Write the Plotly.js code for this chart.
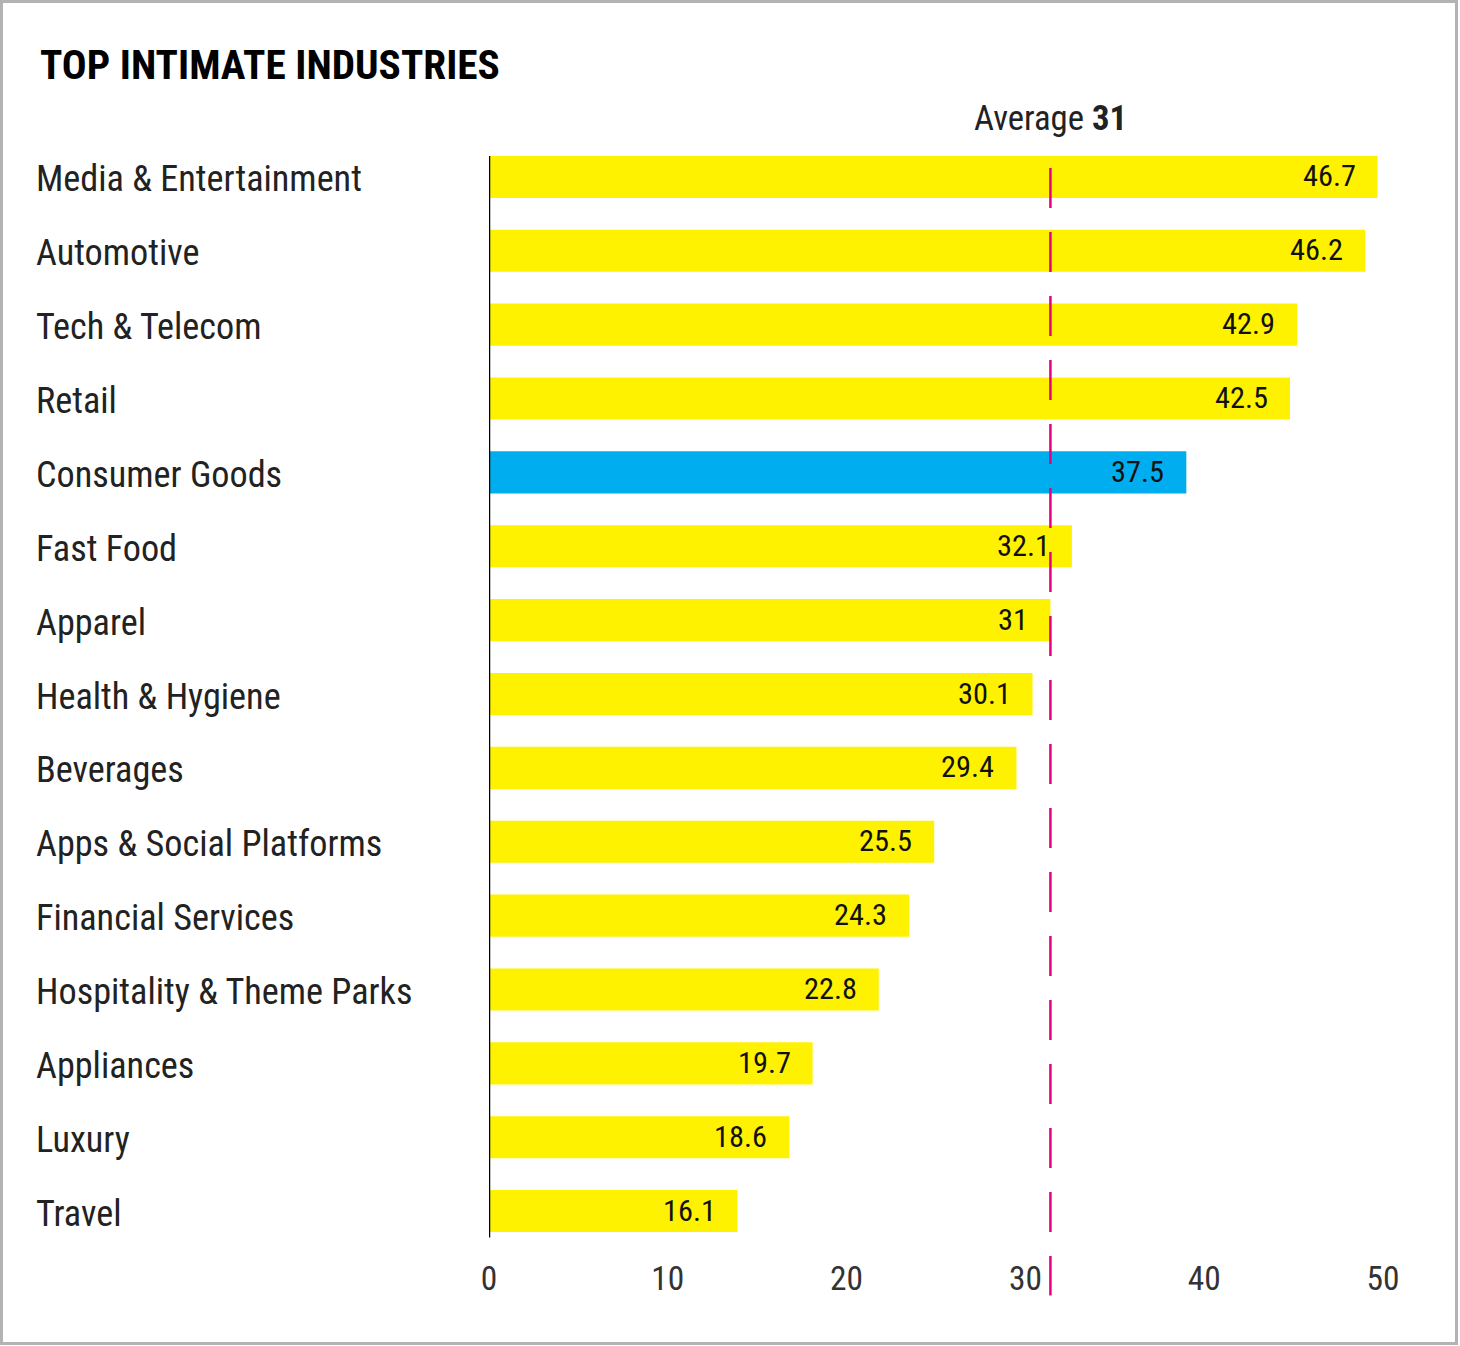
<!DOCTYPE html>
<html>
<head>
<meta charset="utf-8">
<script src="https://cdn.plot.ly/plotly-3.0.1.min.js"></script>
<style>
  html, body { margin: 0; padding: 0; background: #fff; }
  #wrap { position: relative; width: 1460px; height: 1346px; overflow: hidden; }
  #chart { position: absolute; left: 0; top: 0; width: 1460px; height: 1346px; }
  #frame { position: absolute; left: 0; top: 0; width: 1458px; height: 1345px; box-sizing: border-box; border: 3px solid #b3b3b3; pointer-events: none; }
</style>
</head>
<body>
<div id="wrap"><div id="chart"></div><div id="frame"></div></div>
<script>
// ---- data ----
const categories = [
  "Media & Entertainment", "Automotive", "Tech & Telecom", "Retail", "Consumer Goods",
  "Fast Food", "Apparel", "Health & Hygiene", "Beverages", "Apps & Social Platforms",
  "Financial Services", "Hospitality & Theme Parks", "Appliances", "Luxury", "Travel"
];
// printed scores
const scores = [46.7, 46.2, 42.9, 42.5, 37.5, 32.1, 31, 30.1, 29.4, 25.5, 24.3, 22.8, 19.7, 18.6, 16.1];
// bar extents as drawn against the 0–50 axis
const barLengths = [49.7, 49.0, 45.2, 44.8, 39.0, 32.6, 31.4, 30.4, 29.5, 24.9, 23.5, 21.8, 18.1, 16.8, 13.9];
const highlighted = "Consumer Goods";
const averageLabel = 31;
const averageLinePos = 31.4;
const xTicks = [0, 10, 20, 30, 40, 50];

const YELLOW = "#FFF200", BLUE = "#00AEEF", MAGENTA = "#E6007E";
const FONT = "'Roboto Condensed', 'Archivo Narrow', 'DejaVu Sans Condensed', sans-serif";

// fit font sizes to the text widths seen in the reference
const ctx = document.createElement("canvas").getContext("2d");
function widthAt(text, size, weight) {
  ctx.font = (weight || "normal") + " " + size + "px " + FONT;
  return ctx.measureText(text).width;
}
function fit(text, target, weight, fallback, lo, hi) {
  const w = widthAt(text, 100, weight);
  if (!w) return fallback;
  const s = 100 * target / w;
  return Math.max(lo, Math.min(hi, s));
}
const labelSize = fit("Media & Entertainment", 326, "normal", 36, 30, 40);
const titleSize = fit("TOP INTIMATE INDUSTRIES", 460, "bold", 42, 34, 50);
const valueSize = fit("46.7", 53, "normal", 30, 26, 34);
const tickSize = fit("50", 33, "normal", 31, 26, 36);
const avgW = widthAt("Average ", 100, "normal") + widthAt("31", 100, "bold");
const avgSize = Math.max(30, Math.min(40, 100 * 153 / avgW));

const colors = categories.map(c => c === highlighted ? BLUE : YELLOW);

const trace = {
  type: "bar",
  orientation: "h",
  y: categories,
  x: barLengths,
  width: 0.57,
  marker: { color: colors, line: { width: 0 } },
  hoverinfo: "none"
};

// plot area geometry (pixels) used to convert to paper coords
const plotTop = 140, plotBottom = 1248.5, plotLeft = 489, plotRight = 1383;
const ph = plotBottom - plotTop, pw = plotRight - plotLeft;
const py = px => (plotBottom - px) / ph;
const pxX = px => (px - plotLeft) / pw;

const annotations = [];
categories.forEach((c, i) => {
  annotations.push({
    xref: "paper", yref: "y", x: pxX(34), y: c, xanchor: "left", yanchor: "middle",
    yshift: -2,
    text: c, showarrow: false, font: { family: FONT, size: labelSize, color: "#222" }
  });
  annotations.push({
    xref: "x", yref: "y", x: barLengths[i], y: c, xanchor: "right", yanchor: "middle",
    xshift: -20, yshift: 1,
    text: String(scores[i]), showarrow: false, font: { family: FONT, size: valueSize, color: "#111" }
  });
});
annotations.push({
  xref: "x", yref: "paper", x: averageLinePos, y: py(118), xanchor: "center", yanchor: "middle",
  text: "Average <b>" + averageLabel + "</b>", showarrow: false,
  font: { family: FONT, size: avgSize, color: "#222" }
});

const layout = {
  width: 1460, height: 1346,
  paper_bgcolor: "#fff", plot_bgcolor: "#fff",
  margin: { l: plotLeft, r: 1460 - plotRight, t: plotTop, b: 1346 - plotBottom, pad: 0 },
  showlegend: false,
  title: {
    text: "<b>TOP INTIMATE INDUSTRIES</b>",
    xref: "container", yref: "container",
    x: 40 / 1460, xanchor: "left",
    y: 1 - 65 / 1346, yanchor: "middle",
    font: { family: FONT, size: titleSize, color: "#000" }
  },
  xaxis: {
    range: [0, 50], tickvals: xTicks, ticktext: xTicks.map(String),
    showgrid: false, zeroline: false, showline: false,
    ticks: "outside", ticklen: 1, tickcolor: "rgba(0,0,0,0)",
    tickfont: { family: FONT, size: tickSize, color: "#333" },
    fixedrange: true
  },
  yaxis: {
    type: "category", categoryorder: "array", categoryarray: categories,
    range: [categories.length - 0.5, -0.5],
    showticklabels: false, showgrid: false, zeroline: false, showline: false, ticks: "",
    fixedrange: true
  },
  shapes: [
    { type: "line", xref: "x", yref: "paper", x0: 0, x1: 0, y0: py(1238), y1: py(156),
      line: { color: "#000", width: 2.5 }, layer: "above" },
    { type: "line", xref: "x", yref: "paper", x0: averageLinePos, x1: averageLinePos,
      y0: py(168), y1: py(1296), line: { color: MAGENTA, width: 2.5, dash: "40px,24px" }, layer: "above" }
  ],
  annotations: annotations
};

Plotly.newPlot("chart", [trace], layout, { displayModeBar: false, staticPlot: true });
</script>
</body>
</html>
